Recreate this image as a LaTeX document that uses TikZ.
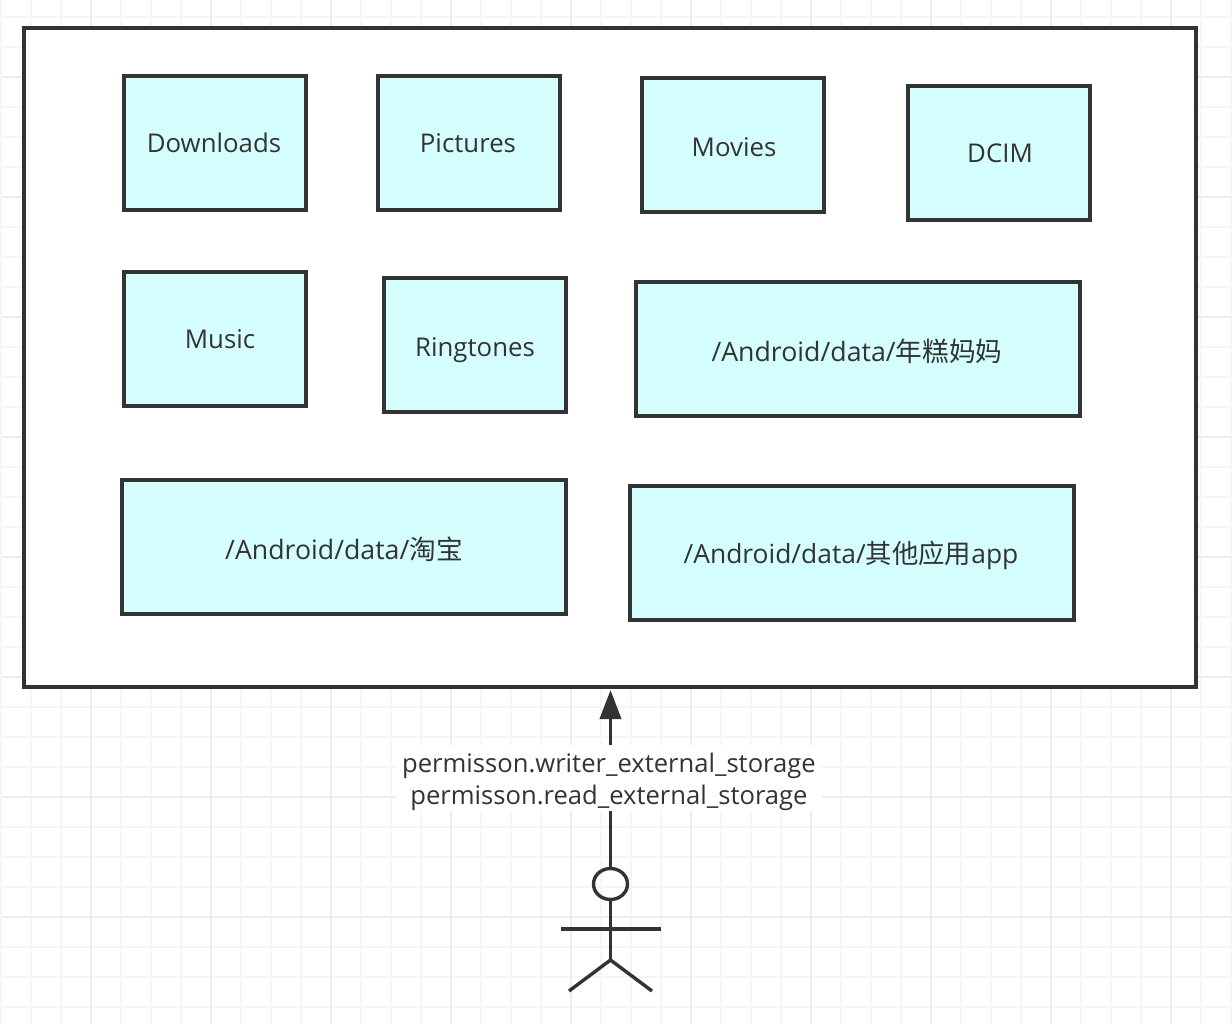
\documentclass[tikz,border=0pt]{standalone}
\usepackage{fontspec}
\setmainfont{Open Sans}
\newfontfamily\cjkfont{Noto Sans CJK SC}
\usetikzlibrary{shapes.geometric,arrows.meta}
\definecolor{ink}{HTML}{333333}
\definecolor{boxfill}{HTML}{D5FFFF}
\definecolor{gridminor}{HTML}{F5F5F5}
\definecolor{gridmajor}{HTML}{EDEDED}
\tikzset{
  x=1pt,y=-1pt,
  gridlineminor/.style={draw=gridminor,line width=2pt},
  gridlinemajor/.style={draw=gridmajor,line width=2pt},
  outerbox/.style={draw=ink,fill=white,line width=3.8pt,rectangle,inner sep=0pt,outer sep=0pt,anchor=north west},
  folderbox/.style={draw=ink,fill=boxfill,line width=3.2pt,rectangle,inner sep=0pt,outer sep=0pt,anchor=north west},
  foldertext/.style={text=ink,font=\fontsize{25.8}{30}\selectfont,inner sep=0pt,anchor=center},
  pathtext/.style={foldertext,font=\fontsize{26.7}{30}\selectfont},
  apptext/.style={foldertext,font=\fontsize{26.4}{30}\selectfont},
  labeltext/.style={text=ink,fill=white,font=\fontsize{25.6}{32}\selectfont,align=center,inner xsep=6pt,inner ysep=0pt},
  actorline/.style={draw=ink,line width=3.4pt},
  flow/.style={draw=ink,line width=3.8pt,-{Triangle[length=29pt,width=21pt]},shorten >=3pt}
}
\newcommand{\folder}[9]{%
  \node[folderbox,minimum width=#4 pt-#2 pt,minimum height=#5 pt-#3 pt] (#1) at (#2,#3) {};
  \node[#9] (#1text) at (#6,#7) {#8};
}
\begin{document}
\begin{tikzpicture}
\useasboundingbox (0,0) rectangle (1232,1024);
\fill[white] (0,0) rectangle (1232,1024);
\foreach \k in {0,...,41} {\draw[gridlineminor] ({0.7+30*\k},0) -- ({0.7+30*\k},1024);}
\foreach \k in {0,...,34} {\draw[gridlineminor] (2,{16.7+30*\k}) -- (1232,{16.7+30*\k});}
\foreach \k in {0,...,9} {\draw[gridlinemajor] ({90.7+120*\k},0) -- ({90.7+120*\k},1024);}
\foreach \k in {0,...,7} {\draw[gridlinemajor] (2,{76.7+120*\k}) -- (1232,{76.7+120*\k});}

\node[outerbox,minimum width=1172pt,minimum height=659pt] (main) at (24,28) {};

\folder{downloads}{124}{76}{306}{210}{214}{143}{Downloads}{foldertext}
\folder{pictures}{378}{76}{560}{210}{468}{143}{Pictures}{foldertext}
\folder{movies}{642}{78}{824}{212}{734}{147}{Movies}{foldertext}
\folder{dcim}{908}{86}{1090}{220}{1000}{153}{DCIM}{foldertext}
\folder{music}{124}{272}{306}{406}{220}{339}{Music}{foldertext}
\folder{ringtones}{384}{278}{566}{412}{475}{350}{Ringtones}{foldertext}
\folder{nian}{636}{282}{1080}{416}{857}{351}{/Android/data/{\cjkfont 年糕妈妈}}{pathtext}
\folder{taobao}{122}{480}{566}{614}{344}{549}{/Android/data/{\cjkfont 淘宝}}{pathtext}
\folder{other}{630}{486}{1074}{620}{851}{555}{/Android/data/{\cjkfont 其他应用}app}{apptext}

\node[ellipse,draw=ink,line width=3.4pt,minimum width=34pt,minimum height=31pt,inner sep=0pt,outer sep=0pt] (head) at (610.5,884) {};
\coordinate (hip) at (610.5,960);
\coordinate (armL) at (561,929);
\coordinate (armR) at (661,929);
\coordinate (legL) at (569,991);
\coordinate (legR) at (652,991);
\draw[actorline] (head) -- (hip);
\draw[actorline] (armL) -- (armR);
\draw[actorline] (legL) -- (hip) -- (legR);

\draw[flow] (head) -- (head |- main.south);
\node[labeltext] (perm) at (609,778) {\rule{0pt}{27pt}permisson.writer\_external\_storage\\permisson.read\_external\_storage};
\end{tikzpicture}
\end{document}
